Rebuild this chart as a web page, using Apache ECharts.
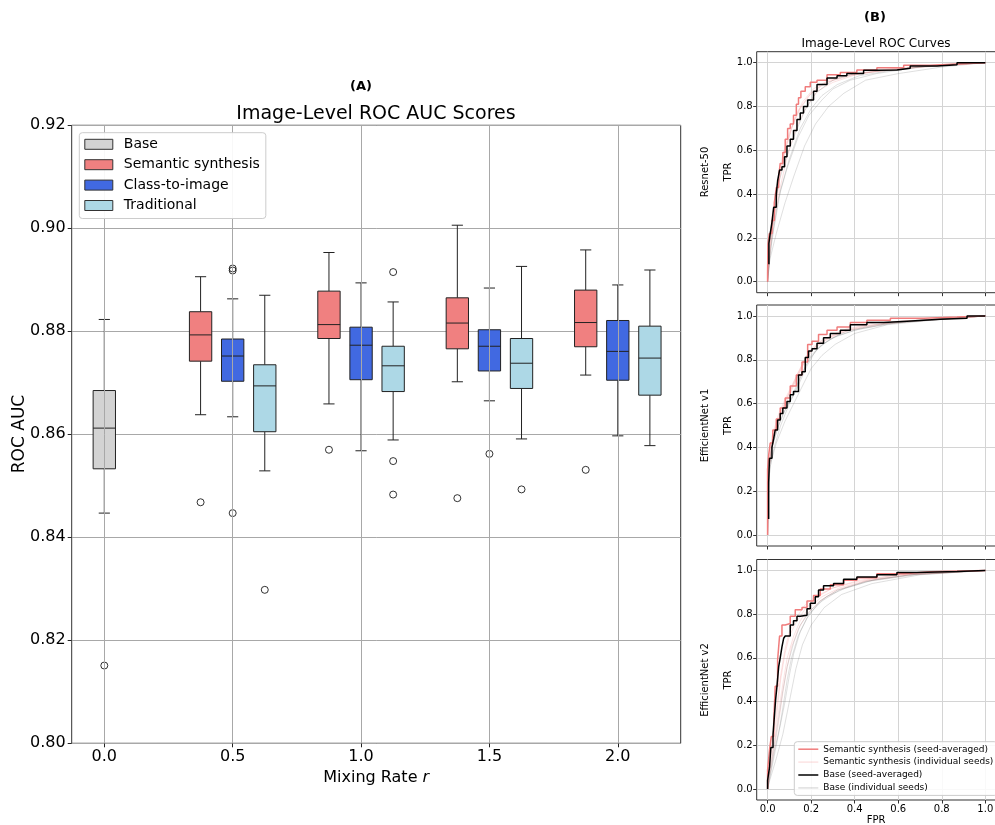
<!DOCTYPE html>
<html><head><meta charset="utf-8">
<script src="https://cdn.jsdelivr.net/npm/echarts@6/dist/echarts.min.js"></script>
<style>html,body{margin:0;padding:0;background:#fff}#c{width:995px;height:825px}</style>
</head><body><div id="c"></div>
<script>
// ---------------- Panel A data ----------------
const rates = [0.0, 0.5, 1.0, 1.5, 2.0];
const aucTicks = [0.80, 0.82, 0.84, 0.86, 0.88, 0.90, 0.92];
const groupNames = ['Base', 'Semantic synthesis', 'Class-to-image', 'Traditional'];
// [rate, lowerWhisker, Q1, median, Q3, upperWhisker]
const baseBoxes = [
  [0.0, 0.8447, 0.8533, 0.8612, 0.8685, 0.8823]
];
const semanticBoxes = [
  [0.5, 0.8638, 0.8742, 0.8793, 0.8838, 0.8906],
  [1.0, 0.8659, 0.8786, 0.8813, 0.8878, 0.8953],
  [1.5, 0.8702, 0.8766, 0.8816, 0.8865, 0.9006],
  [2.0, 0.8715, 0.8770, 0.8817, 0.8880, 0.8958]
];
const classBoxes = [
  [0.5, 0.8634, 0.8703, 0.8752, 0.8785, 0.8863],
  [1.0, 0.8568, 0.8706, 0.8773, 0.8808, 0.8894],
  [1.5, 0.8665, 0.8723, 0.8771, 0.8803, 0.8884],
  [2.0, 0.8597, 0.8705, 0.8761, 0.8821, 0.8890]
];
const tradBoxes = [
  [0.5, 0.8529, 0.8605, 0.8694, 0.8735, 0.8870],
  [1.0, 0.8589, 0.8683, 0.8733, 0.8771, 0.8857],
  [1.5, 0.8591, 0.8689, 0.8738, 0.8786, 0.8926],
  [2.0, 0.8578, 0.8676, 0.8748, 0.8810, 0.8919]
];
// [rate, value]
const baseOutliers = [[0.0, 0.8151]];
const semanticOutliers = [[0.5, 0.8468], [1.0, 0.8570], [1.5, 0.8476], [2.0, 0.8531]];
const classOutliers = [[0.5, 0.8922], [0.5, 0.8918], [0.5, 0.8447], [1.5, 0.8562]];
const tradOutliers = [[0.5, 0.8298], [1.0, 0.8915], [1.0, 0.8548], [1.0, 0.8483], [1.5, 0.8493]];

// ---------------- Panel B data (FPR, TPR) ----------------
const rocTicks = [0, 0.2, 0.4, 0.6, 0.8, 1.0];
const modelNames = ['Resnet-50', 'EfficientNet v1', 'EfficientNet v2'];
const rocLegendNames = ['Semantic synthesis (seed-averaged)', 'Semantic synthesis (individual seeds)', 'Base (seed-averaged)', 'Base (individual seeds)'];

const resnetSemanticAvg = [[0,0],[0.0015,0.04],[0.008,0.17],[0.02,0.22],[0.031,0.28],[0.04,0.36],[0.051,0.43],[0.058,0.48],[0.07,0.54],[0.081,0.59],[0.092,0.65],[0.104,0.70],[0.119,0.72],[0.132,0.76],[0.142,0.81],[0.153,0.84],[0.173,0.87],[0.196,0.89],[0.227,0.91],[0.273,0.92],[0.334,0.945],[0.41,0.955],[0.502,0.967],[0.625,0.977],[0.747,0.988],[0.87,0.994],[1,1]];
const resnetBaseAvg = [[0.006,0.08],[0.012,0.175],[0.02,0.22],[0.028,0.27],[0.04,0.34],[0.046,0.40],[0.055,0.46],[0.066,0.51],[0.078,0.525],[0.089,0.57],[0.104,0.62],[0.119,0.65],[0.135,0.69],[0.15,0.74],[0.165,0.77],[0.184,0.80],[0.211,0.83],[0.227,0.87],[0.25,0.90],[0.273,0.90],[0.319,0.93],[0.364,0.94],[0.441,0.95],[0.502,0.965],[0.594,0.966],[0.655,0.974],[0.778,0.985],[0.87,0.99],[1,1]];
const resnetSemanticSeeds = [
  [[0,0],[0.01,0.16],[0.03,0.3],[0.05,0.45],[0.08,0.6],[0.11,0.7],[0.15,0.79],[0.2,0.86],[0.27,0.91],[0.38,0.94],[0.55,0.97],[0.8,0.99],[1,1]],
  [[0,0],[0.01,0.2],[0.02,0.3],[0.04,0.42],[0.07,0.58],[0.1,0.68],[0.14,0.78],[0.19,0.85],[0.25,0.9],[0.35,0.94],[0.5,0.96],[0.75,0.985],[1,1]],
  [[0,0],[0.01,0.14],[0.03,0.28],[0.06,0.44],[0.09,0.57],[0.13,0.7],[0.18,0.8],[0.23,0.87],[0.3,0.91],[0.42,0.95],[0.6,0.97],[0.85,0.99],[1,1]],
  [[0,0],[0.02,0.24],[0.04,0.36],[0.06,0.5],[0.09,0.63],[0.12,0.73],[0.16,0.82],[0.21,0.88],[0.28,0.92],[0.4,0.95],[0.6,0.975],[1,1]]
];
const resnetBaseSeeds = [
  [[0,0],[0.01,0.12],[0.03,0.25],[0.06,0.42],[0.1,0.56],[0.15,0.70],[0.2,0.79],[0.25,0.85],[0.32,0.90],[0.42,0.94],[0.6,0.97],[0.8,0.99],[1,1]],
  [[0,0],[0.01,0.10],[0.04,0.22],[0.08,0.36],[0.12,0.48],[0.17,0.62],[0.22,0.72],[0.28,0.80],[0.35,0.86],[0.45,0.92],[0.6,0.95],[0.8,0.98],[1,1]],
  [[0,0],[0.01,0.18],[0.03,0.3],[0.05,0.45],[0.08,0.55],[0.12,0.66],[0.17,0.78],[0.22,0.86],[0.3,0.92],[0.4,0.95],[0.6,0.97],[0.8,0.99],[1,1]],
  [[0,0],[0.02,0.2],[0.05,0.38],[0.09,0.52],[0.14,0.66],[0.19,0.76],[0.25,0.83],[0.3,0.88],[0.38,0.92],[0.5,0.95],[0.7,0.98],[1,1]]
];

const effv1SemanticAvg = [[0,0],[0.005,0.30],[0.012,0.365],[0.024,0.42],[0.04,0.48],[0.058,0.53],[0.081,0.58],[0.104,0.625],[0.132,0.68],[0.158,0.73],[0.184,0.79],[0.204,0.87],[0.234,0.885],[0.273,0.915],[0.319,0.935],[0.38,0.95],[0.456,0.97],[0.564,0.98],[0.717,0.99],[0.87,0.995],[1,1]];
const effv1BaseAvg = [[0.005,0.073],[0.008,0.24],[0.009,0.33],[0.02,0.35],[0.028,0.40],[0.035,0.44],[0.046,0.48],[0.058,0.525],[0.07,0.555],[0.089,0.58],[0.104,0.61],[0.119,0.64],[0.142,0.655],[0.158,0.73],[0.173,0.745],[0.188,0.81],[0.204,0.84],[0.227,0.85],[0.257,0.875],[0.288,0.90],[0.334,0.92],[0.38,0.935],[0.456,0.96],[0.533,0.97],[0.64,0.976],[0.793,0.985],[0.916,0.99],[1,1]];
const effv1SemanticSeeds = [
  [[0,0],[0.005,0.3],[0.02,0.42],[0.04,0.5],[0.07,0.58],[0.1,0.65],[0.14,0.74],[0.18,0.82],[0.22,0.86],[0.28,0.9],[0.36,0.94],[0.5,0.97],[0.75,0.985],[1,1]],
  [[0,0],[0.005,0.27],[0.015,0.38],[0.03,0.47],[0.06,0.56],[0.09,0.63],[0.13,0.71],[0.17,0.79],[0.21,0.85],[0.27,0.89],[0.35,0.93],[0.48,0.96],[0.7,0.98],[1,1]],
  [[0,0],[0.005,0.32],[0.02,0.45],[0.05,0.55],[0.08,0.62],[0.12,0.7],[0.16,0.78],[0.2,0.85],[0.25,0.89],[0.32,0.925],[0.42,0.95],[0.6,0.975],[1,1]],
  [[0,0],[0.005,0.29],[0.02,0.41],[0.04,0.49],[0.07,0.57],[0.11,0.66],[0.15,0.75],[0.19,0.83],[0.24,0.88],[0.3,0.91],[0.4,0.94],[0.55,0.965],[0.8,0.985],[1,1]]
];
const effv1BaseSeeds = [
  [[0,0],[0.005,0.2],[0.01,0.3],[0.03,0.4],[0.06,0.5],[0.1,0.6],[0.14,0.68],[0.18,0.77],[0.22,0.84],[0.28,0.89],[0.36,0.93],[0.5,0.96],[0.7,0.98],[1,1]],
  [[0,0],[0.005,0.25],[0.015,0.33],[0.04,0.42],[0.08,0.52],[0.12,0.6],[0.16,0.68],[0.2,0.76],[0.25,0.82],[0.31,0.87],[0.4,0.92],[0.55,0.96],[0.75,0.98],[1,1]],
  [[0,0],[0.005,0.3],[0.02,0.4],[0.05,0.5],[0.08,0.57],[0.12,0.64],[0.16,0.74],[0.2,0.82],[0.25,0.87],[0.32,0.91],[0.42,0.94],[0.6,0.97],[1,1]],
  [[0,0],[0.005,0.28],[0.015,0.38],[0.04,0.47],[0.07,0.55],[0.11,0.63],[0.15,0.72],[0.19,0.8],[0.24,0.86],[0.3,0.9],[0.4,0.935],[0.55,0.965],[0.8,0.985],[1,1]]
];

const effv2SemanticAvg = [[0,0],[0.009,0.087],[0.017,0.18],[0.028,0.24],[0.035,0.30],[0.046,0.47],[0.055,0.59],[0.066,0.70],[0.081,0.75],[0.104,0.757],[0.127,0.79],[0.158,0.82],[0.181,0.83],[0.211,0.86],[0.242,0.885],[0.288,0.915],[0.349,0.935],[0.41,0.955],[0.502,0.966],[0.625,0.985],[0.747,0.994],[1,1]];
const effv2BaseAvg = [[0,0],[0.009,0.04],[0.015,0.10],[0.025,0.19],[0.031,0.25],[0.037,0.33],[0.043,0.41],[0.051,0.47],[0.058,0.56],[0.066,0.60],[0.074,0.65],[0.081,0.69],[0.104,0.70],[0.119,0.75],[0.135,0.77],[0.15,0.79],[0.181,0.795],[0.196,0.825],[0.219,0.85],[0.234,0.88],[0.257,0.91],[0.303,0.93],[0.349,0.94],[0.41,0.96],[0.502,0.97],[0.594,0.98],[0.686,0.99],[0.87,0.995],[1,1]];
const effv2SemanticSeeds = [
  [[0,0],[0.01,0.1],[0.02,0.2],[0.04,0.32],[0.06,0.5],[0.08,0.62],[0.1,0.7],[0.13,0.76],[0.17,0.82],[0.23,0.88],[0.3,0.92],[0.42,0.95],[0.6,0.98],[1,1]],
  [[0,0],[0.01,0.07],[0.03,0.18],[0.05,0.3],[0.07,0.44],[0.09,0.56],[0.11,0.65],[0.14,0.73],[0.18,0.8],[0.24,0.86],[0.32,0.91],[0.45,0.95],[0.65,0.98],[1,1]],
  [[0,0],[0.01,0.12],[0.02,0.22],[0.04,0.36],[0.06,0.52],[0.08,0.64],[0.1,0.72],[0.13,0.78],[0.17,0.84],[0.22,0.88],[0.3,0.92],[0.42,0.955],[0.6,0.98],[1,1]],
  [[0,0],[0.01,0.09],[0.03,0.22],[0.05,0.35],[0.07,0.48],[0.09,0.6],[0.12,0.7],[0.15,0.77],[0.19,0.83],[0.25,0.88],[0.33,0.92],[0.46,0.955],[0.65,0.98],[1,1]]
];
const effv2BaseSeeds = [
  [[0,0],[0.01,0.05],[0.03,0.15],[0.05,0.25],[0.07,0.37],[0.09,0.5],[0.11,0.6],[0.14,0.7],[0.18,0.78],[0.24,0.86],[0.32,0.91],[0.45,0.95],[0.65,0.98],[1,1]],
  [[0,0],[0.01,0.04],[0.04,0.14],[0.07,0.25],[0.09,0.35],[0.11,0.45],[0.13,0.55],[0.16,0.66],[0.2,0.75],[0.26,0.83],[0.34,0.89],[0.48,0.94],[0.7,0.98],[1,1]],
  [[0,0],[0.01,0.08],[0.03,0.2],[0.05,0.32],[0.07,0.45],[0.09,0.56],[0.12,0.67],[0.15,0.75],[0.2,0.82],[0.27,0.88],[0.36,0.92],[0.5,0.96],[0.7,0.985],[1,1]],
  [[0,0],[0.01,0.06],[0.03,0.17],[0.06,0.3],[0.08,0.4],[0.1,0.52],[0.12,0.62],[0.15,0.72],[0.19,0.8],[0.25,0.86],[0.33,0.91],[0.46,0.95],[0.68,0.98],[1,1]]
];

// ---------------- Build chart ----------------
const FONT = 'DejaVu Sans';
const BOX_W = 0.087;
const GROUP_OFFSET = [0, -0.125, 0, 0.125];
const FILLS = ['#d3d3d3', '#f08080', '#4169e1', '#add8e6'];
const EDGE = '#222';

function boxRender(offset, fill) {
  return function (params, api) {
    const x = api.value(0) + offset;
    const pLo = api.coord([x, api.value(1)]);
    const pQ1 = api.coord([x, api.value(2)]);
    const pMd = api.coord([x, api.value(3)]);
    const pQ3 = api.coord([x, api.value(4)]);
    const pHi = api.coord([x, api.value(5)]);
    const w = api.size([BOX_W, 0])[0];
    const cx = pMd[0];
    const st = { stroke: EDGE, lineWidth: 1 };
    return {
      type: 'group', children: [
        { type: 'line', shape: { x1: cx, y1: pLo[1], x2: cx, y2: pQ1[1] }, style: st },
        { type: 'line', shape: { x1: cx, y1: pQ3[1], x2: cx, y2: pHi[1] }, style: st },
        { type: 'line', shape: { x1: cx - w / 4, y1: pLo[1], x2: cx + w / 4, y2: pLo[1] }, style: st },
        { type: 'line', shape: { x1: cx - w / 4, y1: pHi[1], x2: cx + w / 4, y2: pHi[1] }, style: st },
        { type: 'rect', shape: { x: cx - w / 2, y: pQ3[1], width: w, height: pQ1[1] - pQ3[1] }, style: { fill: fill, stroke: EDGE, lineWidth: 1 } },
        { type: 'line', shape: { x1: cx - w / 2, y1: pMd[1], x2: cx + w / 2, y2: pMd[1] }, style: st }
      ]
    };
  };
}

const boxSets = [baseBoxes, semanticBoxes, classBoxes, tradBoxes];
const outlierSets = [baseOutliers, semanticOutliers, classOutliers, tradOutliers];

const series = [];
// vertical grid lines of panel A at the mixing rates
series.push({
  type: 'line', name: 'vgrid', xAxisIndex: 0, yAxisIndex: 0, data: [], z: 1, silent: true,
  markLine: { silent: true, symbol: 'none', label: { show: false },
    lineStyle: { color: '#a8a8a8', width: 1, type: 'solid' },
    data: rates.map(r => ({ xAxis: r })) }
});
boxSets.forEach((data, i) => {
  series.push({
    type: 'custom', name: groupNames[i], xAxisIndex: 0, yAxisIndex: 0,
    renderItem: boxRender(GROUP_OFFSET[i], FILLS[i]),
    itemStyle: { color: FILLS[i], borderColor: EDGE, borderWidth: 1 },
    encode: { x: 0, y: [1, 2, 3, 4, 5] },
    data: data, z: 3
  });
});
outlierSets.forEach((data, i) => {
  series.push({
    type: 'scatter', name: 'outliers-' + i, xAxisIndex: 0, yAxisIndex: 0,
    symbol: 'circle', symbolSize: 7,
    itemStyle: { color: 'rgba(255,255,255,0)', borderColor: '#000', borderWidth: 1 },
    data: data.map(d => [d[0] + GROUP_OFFSET[i], d[1]]), z: 4
  });
});

const rocModels = [
  { sAvg: resnetSemanticAvg, bAvg: resnetBaseAvg, sSeeds: resnetSemanticSeeds, bSeeds: resnetBaseSeeds },
  { sAvg: effv1SemanticAvg, bAvg: effv1BaseAvg, sSeeds: effv1SemanticSeeds, bSeeds: effv1BaseSeeds },
  { sAvg: effv2SemanticAvg, bAvg: effv2BaseAvg, sSeeds: effv2SemanticSeeds, bSeeds: effv2BaseSeeds }
];
const RED = '#f07c7c';
const PINK_FAINT = 'rgba(240,128,128,0.22)';
const GRAY_FAINT = 'rgba(110,110,110,0.22)';
rocModels.forEach((m, k) => {
  const ax = k + 1;
  const base = { type: 'line', xAxisIndex: ax, yAxisIndex: ax, symbol: 'none', showSymbol: false, animation: false };
  m.sSeeds.forEach(d => series.push(Object.assign({}, base, { name: rocLegendNames[1], data: d, lineStyle: { color: PINK_FAINT, width: 1 }, itemStyle: { color: PINK_FAINT }, z: 2 })));
  m.bSeeds.forEach(d => series.push(Object.assign({}, base, { name: rocLegendNames[3], data: d, lineStyle: { color: GRAY_FAINT, width: 1 }, itemStyle: { color: GRAY_FAINT }, z: 2 })));
  series.push(Object.assign({}, base, { name: rocLegendNames[0], step: 'start', data: m.sAvg, lineStyle: { color: RED, width: 1.5 }, itemStyle: { color: RED }, z: 3 }));
  series.push(Object.assign({}, base, { name: rocLegendNames[2], step: 'start', data: m.bAvg, lineStyle: { color: '#000', width: 1.5 }, itemStyle: { color: '#000' }, z: 4 }));
});

const grids = [
  { left: 71.7, top: 125.3, width: 609, height: 618 },
  { left: 756.7, top: 51.7, width: 239.5, height: 241 },
  { left: 756.7, top: 305, width: 239.5, height: 241 },
  { left: 756.7, top: 559.5, width: 239.5, height: 240.5 }
].map(g => Object.assign(g, { show: true, borderColor: '#333', borderWidth: 1, backgroundColor: 'transparent', containLabel: false, outerBoundsMode: 'none' }));

const xAxes = [{
  type: 'value', gridIndex: 0, min: -0.127, max: 2.245,
  axisLine: { show: false, onZero: false },
  axisTick: { show: true, customValues: rates, length: 4, lineStyle: { color: '#222' } },
  axisLabel: { customValues: rates, formatter: v => v.toFixed(1), fontSize: 16, fontFamily: FONT, color: '#000', margin: 6 },
  splitLine: { show: false },
  name: 'Mixing Rate {i|r}', nameLocation: 'middle', nameGap: 25,
  nameTextStyle: { fontSize: 16, fontFamily: FONT, color: '#000', rich: { i: { fontStyle: 'italic', fontSize: 16, fontFamily: FONT, color: '#000' } } }
}];
const yAxes = [{
  type: 'value', gridIndex: 0, min: 0.80, max: 0.92, interval: 0.02,
  axisLine: { show: false, onZero: false },
  axisTick: { show: true, length: 4, lineStyle: { color: '#222' } },
  axisLabel: { formatter: v => v.toFixed(2), fontSize: 16, fontFamily: FONT, color: '#000', margin: 6 },
  splitLine: { show: true, lineStyle: { color: '#a8a8a8', width: 1 } }
}];
for (let k = 1; k <= 3; k++) {
  xAxes.push({
    type: 'value', gridIndex: k, min: -0.05, max: 1.05,
    axisLine: { show: false, onZero: false },
    axisTick: { show: true, customValues: rocTicks, length: 3.5, lineStyle: { color: '#333' } },
    axisLabel: { show: k === 3, customValues: rocTicks, formatter: v => v.toFixed(1), fontSize: 10, fontFamily: FONT, color: '#000', margin: 4 },
    splitLine: { show: true, lineStyle: { color: '#d4d4d4', width: 1 } }
  });
  yAxes.push({
    type: 'value', gridIndex: k, min: -0.05, max: 1.05,
    axisLine: { show: false, onZero: false },
    axisTick: { show: true, customValues: rocTicks, length: 3.5, lineStyle: { color: '#333' } },
    axisLabel: { customValues: rocTicks, formatter: v => v.toFixed(1), fontSize: 10, fontFamily: FONT, color: '#000', margin: 4 },
    splitLine: { show: true, lineStyle: { color: '#d4d4d4', width: 1 } }
  });
}

function vText(text, x, y, size) {
  return { type: 'text', x: x, y: y, rotation: Math.PI / 2, z: 10,
    style: { text: text, fontSize: size, fontFamily: FONT, fill: '#000', align: 'center', verticalAlign: 'middle', textAlign: 'center', textVerticalAlign: 'middle' } };
}
function hText(text, x, y, size, weight) {
  return { type: 'text', x: x, y: y, z: 10,
    style: { text: text, fontSize: size, fontFamily: FONT, fontWeight: weight || 'normal', fill: '#000', align: 'center', verticalAlign: 'middle', textAlign: 'center', textVerticalAlign: 'middle' } };
}

const graphics = [
  hText('(A)', 361, 87, 13, 'bold'),
  hText('Image-Level ROC AUC Scores', 376, 114, 19),
  hText('(B)', 875, 18, 13, 'bold'),
  hText('Image-Level ROC Curves', 876, 44, 12),
  vText('ROC AUC', 20, 434, 17),
  vText(modelNames[0], 705, 172, 10), vText('TPR', 728, 172, 10),
  vText(modelNames[1], 705, 425.5, 10), vText('TPR', 728, 425.5, 10),
  vText(modelNames[2], 705, 680, 10), vText('TPR', 728, 680, 10),
  hText('FPR', 876, 820, 10)
];

const chart = echarts.init(document.getElementById('c'), null, { renderer: 'canvas' });
chart.setOption({
  animation: false,
  backgroundColor: '#fff',
  textStyle: { fontFamily: FONT },
  grid: grids,
  xAxis: xAxes,
  yAxis: yAxes,
  legend: [{
    data: groupNames, orient: 'vertical', left: 79.3, top: 132.7,
    icon: 'rect', itemWidth: 28, itemHeight: 10, itemGap: 6.4,
    padding: [4.6, 6, 6, 5],
    backgroundColor: 'rgba(255,255,255,0.92)', borderColor: '#ccc', borderWidth: 1, borderRadius: 3,
    itemStyle: { borderColor: '#333', borderWidth: 1 },
    textStyle: { fontSize: 14, fontFamily: FONT, color: '#000', padding: [0, 0, 0, 6] },
    selectedMode: false, z: 10
  }, {
    data: rocLegendNames, orient: 'vertical', left: 794.3, top: 741.7,
    icon: 'rect', itemWidth: 20, itemHeight: 1.5, itemGap: 3.9,
    padding: [3, 4, 3, 4],
    backgroundColor: 'rgba(255,255,255,0.85)', borderColor: '#ccc', borderWidth: 1, borderRadius: 3,
    textStyle: { fontSize: 9, fontFamily: FONT, color: '#000' },
    selectedMode: false, z: 10
  }],
  graphic: graphics,
  series: series
});
</script>
</body></html>
